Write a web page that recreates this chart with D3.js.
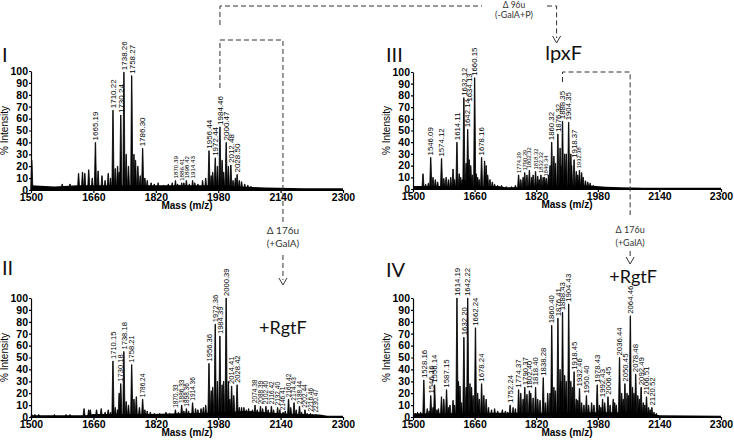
<!DOCTYPE html>
<html><head><meta charset="utf-8">
<script src="https://cdn.jsdelivr.net/npm/d3@7"></script>
<style>body{margin:0;background:#fff}svg{display:block}</style>
</head><body>
<svg id="c" width="734" height="440"></svg>
<script>
// ---------- DATA ----------
const xTicks = [1500, 1660, 1820, 1980, 2140, 2300];
const yTicks = [0, 10, 20, 30, 40, 50, 60, 70, 80, 90, 100];

// Panel I
const massI = [1665.19,1710.22,1730.24,1738.26,1758.27,1786.30,1870.39,1886.41,1898.42,1914.43,1956.44,1972.44,1984.46,2000.47,2012.48,2028.50];
const heightI = [40,67,63,99,96,35,8,6,8,8,33,27,53,40,21,13];
const minorI = [[1502,25],[1580,5],[1600,5],[1622,14],[1632,15],[1638,14],[1648,17],[1657,10],[1672,16],[1682,12],[1690,8],[1698,14],[1704,10],[1716,18],[1722,20],[1726,15],[1744,30],[1750,20],[1764,30],[1768,25],[1774,20],[1780,12],[1792,10],[1798,8],[1808,6],[1816,5],[1826,6],[1840,4],[1852,5],[1862,6],[1876,5],[1880,4],[1892,6],[1906,5],[1920,6],[1928,5],[1940,8],[1948,10],[1962,12],[1966,15],[1978,20],[1990,25],[1994,15],[2006,20],[2018,8],[2024,10],[2034,8],[2040,7],[2048,5],[2056,4],[2064,3]];
const baseI = [[1500,4],[1560,3],[1620,4],[1700,4],[1800,4],[1900,4],[2000,4],[2040,3],[2070,2.5],[2100,2],[2200,1.5],[2300,1.5]];

// Panel II
const massII = [1710.15,1730.18,1738.18,1758.21,1786.24,1870.33,1886.33,1898.36,1914.36,1956.36,1972.36,1984.39,2000.39,2014.41,2028.42,2074.38,2088.39,2102.40,2116.42,2132.40,2146.41,2160.42,2174.43,2188.44,2202.44,2216.46,2230.47];
const heightII = [47,28,55,44,15,6,10,7,12,45,78,68,100,26,27,10,9,9,9,8,4,15,12,9,6,3,2];
const minorII = [[1502,2],[1510,2],[1520,2],[1560,2],[1590,2],[1600,2],[1636,7],[1648,6],[1652,6],[1668,6],[1680,7],[1690,4],[1698,6],[1704,4],[1716,8],[1722,6],[1726,20],[1744,13],[1750,10],[1764,15],[1770,17],[1778,8],[1792,6],[1798,5],[1806,4],[1816,3],[1830,3],[1846,4],[1856,3],[1878,4],[1892,5],[1904,5],[1922,7],[1928,6],[1936,7],[1942,8],[1948,10],[1962,22],[1966,25],[1978,30],[1990,27],[1994,30],[2006,30],[2010,15],[2020,18],[2034,8],[2040,8],[2046,8],[2052,6],[2058,7],[2064,5],[2068,6],[2080,6],[2094,7],[2108,6],[2122,6],[2138,6],[2152,5],[2166,8],[2180,6],[2194,4],[2208,3],[2222,2]];
const baseII = [[1500,1.5],[1640,1.5],[1660,2.5],[1800,2.5],[1950,3.5],[2050,5],[2150,3],[2240,2],[2260,1],[2300,1]];

// Panel III
const massIII = [1546.09,1574.12,1614.11,1632.12,1634.13,1642.14,1660.15,1678.16,1774.29,1790.29,1802.32,1818.32,1832.32,1846.34,1860.32,1876.32,1888.35,1904.35,1918.37,1932.38];
const heightIII = [27,26,40,78,8,51,95,27,12,14,16,15,12,9,40,47,58,57,25,16];
const labelMovedIII = {"1634.13": [1647, 73]};
const minorIII = [[1526,13],[1533,4],[1540,5],[1552,10],[1558,8],[1564,6],[1580,9],[1586,10],[1592,8],[1598,10],[1604,17],[1608,8],[1620,13],[1624,10],[1628,8],[1638,22],[1646,25],[1650,20],[1654,12],[1664,13],[1668,10],[1672,8],[1686,24],[1690,20],[1694,12],[1700,8],[1706,6],[1712,4],[1720,3],[1730,3],[1742,2],[1756,2],[1766,3],[1780,8],[1786,10],[1796,12],[1808,10],[1812,12],[1824,11],[1828,8],[1838,10],[1842,10],[1852,12],[1856,20],[1866,28],[1870,22],[1882,35],[1884,20],[1894,30],[1898,30],[1910,30],[1912,20],[1924,15],[1928,12],[1938,14],[1942,10],[1948,7],[1954,6],[1960,5],[1968,3],[1976,2]];
const baseIII = [[1500,2.5],[1720,2.5],[1740,1.5],[1790,1.5],[1800,3],[1960,3],[2000,2],[2040,1.5],[2100,1],[2300,1]];

// Panel IV
const massIV = [1528.16,1546.16,1556.14,1587.15,1614.19,1632.20,1642.22,1662.24,1678.24,1752.24,1774.37,1790.37,1802.40,1818.40,1838.28,1860.40,1876.41,1888.43,1904.43,1918.45,1932.46,1950.40,1978.43,1992.43,2006.45,2036.44,2050.45,2064.46,2078.48,2092.49,2106.51,2120.52];
const heightIV = [31,18,27,23,100,67,100,75,28,10,23,25,22,25,33,77,83,88,95,38,24,18,27,15,17,50,28,85,36,25,17,8];
const minorIV = [[1506,3],[1512,4],[1520,4],[1537,7],[1542,5],[1552,8],[1562,6],[1566,7],[1574,17],[1580,15],[1592,8],[1596,10],[1604,14],[1608,10],[1618,30],[1622,26],[1626,12],[1638,25],[1648,28],[1652,25],[1656,18],[1668,20],[1672,15],[1684,18],[1690,15],[1696,8],[1704,6],[1712,7],[1720,5],[1732,6],[1740,5],[1746,4],[1760,8],[1766,7],[1780,20],[1786,15],[1796,19],[1806,20],[1812,16],[1824,15],[1830,14],[1844,12],[1850,20],[1856,20],[1866,25],[1870,22],[1882,40],[1884,30],[1894,35],[1898,30],[1910,30],[1914,25],[1924,15],[1928,14],[1938,12],[1944,10],[1956,10],[1964,12],[1970,10],[1984,10],[1988,8],[1998,12],[2012,10],[2020,15],[2024,12],[2028,10],[2042,20],[2046,15],[2056,20],[2060,18],[2070,25],[2074,20],[2084,18],[2088,15],[2098,12],[2102,10],[2112,8],[2116,6],[2126,4],[2132,3]];
const baseIV = [[1500,3],[1700,3.5],[1800,3.5],[2000,4],[2110,3.5],[2140,1.5],[2300,1]];

// ---------- DRAW ----------
const svg = d3.select('#c');
const FONT = '"Liberation Sans", Arial, sans-serif';
const ANN = 'Lato, "Open Sans", sans-serif';

const panels = [
  {name:'I',   mass:massI,   height:heightI,   minor:minorI,   base:baseI,   moved:{}, xr:[31,343],  yr:[190,71],  roman:[2,62],    small:10, smallSize:6.2, bigSize:8},
  {name:'II',  mass:massII,  height:heightII,  minor:minorII,  base:baseII,  moved:{}, xr:[31,343],  yr:[417,298], roman:[2,275],   small:16, smallSize:6.5, bigSize:7.6},
  {name:'III', mass:massIII, height:heightIII, minor:minorIII, base:baseIII, moved:labelMovedIII, xr:[413,721], yr:[189,72], roman:[386,62], small:17, smallSize:5.8, bigSize:7.8},
  {name:'IV',  mass:massIV,  height:heightIV,  minor:minorIV,  base:baseIV,  moved:{}, xr:[413,721], yr:[417,298], roman:[386,277], small:0,  smallSize:7.8, bigSize:7.8}
];
const scales = {};

panels.forEach(p => {
  const x = d3.scaleLinear().domain([1500, 2300]).range(p.xr);
  const y = d3.scaleLinear().domain([0, 100]).range(p.yr);
  scales[p.name] = {x, y};
  const g = svg.append('g');

  // baseline noise band
  const area = d3.area().x(d => x(d[0])).y0(y(0)).y1(d => y(d[1]));
  g.append('path').datum(p.base).attr('d', area).attr('fill', '#000');

  // peaks
  const peaks = p.minor.map(d => ({m: d[0], h: d[1]}))
    .concat(p.mass.map((m, i) => ({m, h: p.height[i]})));
  const line = d3.line().x(d => x(d[0])).y(d => y(d[1]));
  g.selectAll('path.pk').data(peaks).join('path').attr('class', 'pk')
    .attr('d', d => line([[d.m - 2.8, 0], [d.m - 0.5, d.h], [d.m + 0.5, d.h], [d.m + 2.8, 0]]))
    .attr('fill', '#000').attr('stroke', '#000').attr('stroke-width', 0.8).attr('stroke-linejoin', 'round');

  // axes
  const xa = g.append('g').attr('transform', `translate(0,${y(0)})`)
    .call(d3.axisBottom(x).tickValues(xTicks).tickFormat(d3.format('d')).tickSize(3).tickSizeOuter(0).tickPadding(1));
  const ya = g.append('g').attr('transform', `translate(${x(1500)},0)`)
    .call(d3.axisLeft(y).tickValues(yTicks).tickSize(2).tickSizeOuter(0).tickPadding(1));
  [xa, ya].forEach(a => {
    a.selectAll('path,line').attr('stroke', '#000').attr('stroke-width', 1.2);
    a.selectAll('text').attr('font-family', FONT).attr('font-weight', 'bold').attr('font-size', 10.5).attr('fill', '#000');
  });

  // axis titles
  g.append('text').attr('x', (p.xr[0] + p.xr[1]) / 2).attr('y', y(0) + 19)
    .attr('text-anchor', 'middle').attr('font-family', FONT).attr('font-weight', 'bold').attr('font-size', 10)
    .text('Mass (m/z)');
  g.append('text').attr('transform', `translate(${p.xr[0] - 23},${(p.yr[0] + p.yr[1]) / 2}) rotate(-90)`)
    .attr('text-anchor', 'middle').attr('font-family', FONT).attr('font-size', 10)
    .text('% Intensity');

  // roman numeral
  g.append('text').attr('x', p.roman[0]).attr('y', p.roman[1])
    .attr('font-family', ANN).attr('font-size', 20).attr('fill', '#111').text(p.name);

  // peak labels
  g.selectAll('text.lb').data(p.mass).join('text').attr('class', 'lb')
    .each(function (m, i) {
      const key = m.toFixed(2);
      const mv = p.moved[key];
      const pm = mv ? mv[0] : m;
      const lvl = mv ? mv[1] : p.height[i];
      const size = lvl < p.small ? p.smallSize : p.bigSize;
      d3.select(this)
        .attr('transform', `translate(${x(pm)},${y(lvl) - 2}) rotate(-90)`)
        .attr('dy', '0.35em').attr('font-family', FONT).attr('font-size', size)
        .text(key);
    });
});

// ---------- ANNOTATIONS ----------
const xI = scales['I'].x, xIII = scales['III'].x;
const dash = {stroke: '#333', 'stroke-width': 1, 'stroke-dasharray': '5,3', fill: 'none'};
function dpath(d) {
  const p = svg.append('path').attr('d', d);
  Object.entries(dash).forEach(([k, v]) => p.attr(k, v));
}
function chevron(cx, tip) {
  svg.append('path').attr('d', `M${cx - 4},${tip - 7}L${cx},${tip}L${cx + 4},${tip - 7}`)
    .attr('fill', 'none').attr('stroke', '#333').attr('stroke-width', 1);
}
function ann(x, y, t, s, fill) {
  svg.append('text').attr('x', x).attr('y', y).attr('text-anchor', 'middle')
    .attr('font-family', ANN).attr('font-size', s).attr('fill', fill || '#333').text(t);
}

// top connector I -> lpxF
const xTopL = xI(1984.46), xTopR = xIII(1873);
dpath(`M${xTopL},25V6H482`);
dpath(`M547,6H${xTopR}V38`);
chevron(xTopR, 43);
ann(514, 8, 'Δ 96u', 8.5);
ann(514, 18, '(-GalA+P)', 9);
ann(xTopR + 7, 60, 'lpxF', 20, '#111');

// panel I -> II
const xB = xI(2146);
dpath(`M${xTopL},88V40H${xB}V222`);
ann(xB, 234, 'Δ 176u', 10);
ann(xB, 247, '(+GalA)', 10);
dpath(`M${xB},255V280`);
chevron(xB, 285);
ann(xB, 334, '+RgtF', 18, '#111');

// panel III -> IV
const xC = xIII(2064);
dpath(`M${xIII(1888.35)},82V72H${xC}V215`);
ann(xC, 233, 'Δ 176u', 9);
ann(xC, 246, '(+GalA)', 9);
dpath(`M${xC},251V259`);
chevron(xC, 264);
ann(xC + 3, 283, '+RgtF', 18, '#111');
</script>
</body></html>
